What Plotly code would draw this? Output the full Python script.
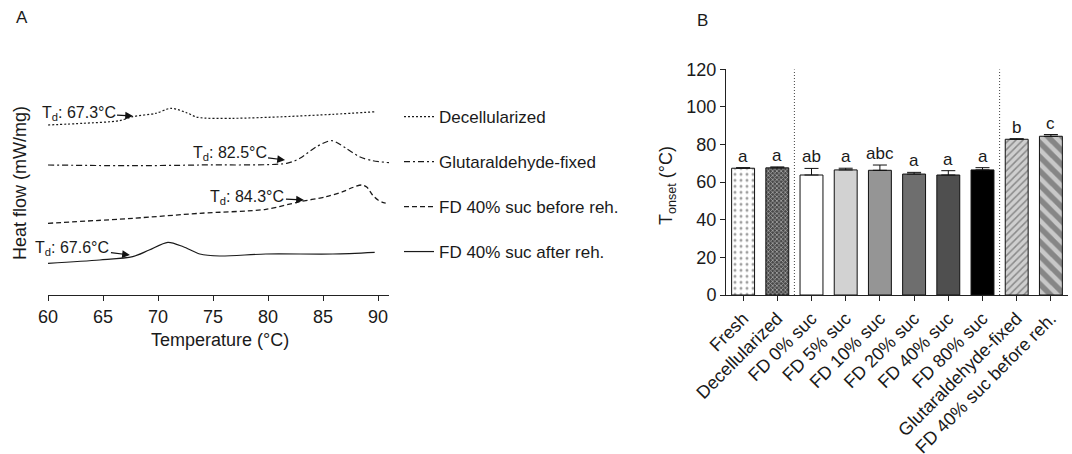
import plotly.graph_objects as go

W, H = 1072, 454
FONT = "Arial, Liberation Sans, sans-serif"


def fx(p):
    return p / W


def fy(p):
    return 1 - p / H


# ---------------- Panel A data (DSC thermograms, arbitrary offset units) ----------------
temp_decell = [60, 63.2, 66.5, 67.7, 69.8, 71.2, 72.6, 73.6, 76.8, 81.4, 85.9, 89.8]
hf_decell = [175, 176.7, 179.3, 183.3, 186.7, 191.7, 187.3, 182.7, 181.7, 183.3, 185.7, 188.3]

temp_glut = [60, 67.7, 73.8, 81.7, 82.9, 84.4, 85.8, 87.1, 88.3, 89.5, 91.0]
hf_glut = [135, 134.3, 135, 136.7, 141.7, 153.3, 159.3, 151.7, 143.3, 139.3, 137.3]

temp_before = [60, 67.7, 73.8, 79.8, 82.9, 85.3, 86.8, 87.7, 88.5, 89.0, 89.5, 90.0, 90.5, 90.9]
hf_before = [76.7, 81.7, 86.7, 90.7, 98.3, 103.3, 108.3, 112.5, 115, 112.7, 105, 100, 97.3, 96.7]

temp_after = [60, 64.7, 67.7, 69.2, 70.9, 72.3, 73.8, 75.6, 79.8, 85.9, 89.7]
hf_after = [36.7, 40, 43.3, 50, 57.7, 53.3, 46, 44, 46, 46, 47.7]

series_names = ["Decellularized", "Glutaraldehyde-fixed",
                "FD 40% suc before reh.", "FD 40% suc after reh."]
td_labels = ["67.3", "82.5", "84.3", "67.6"]
td_tip_temp = [67.73, 81.55, 83.27, 67.45]
td_tip_hf = [184, 140, 100, 45]

# ---------------- Panel B data ----------------
groups = ["Fresh", "Decellularized", "FD 0% suc", "FD 5% suc", "FD 10% suc",
          "FD 20% suc", "FD 40% suc", "FD 80% suc", "Glutaraldehyde-fixed",
          "FD 40% suc before reh."]
t_onset = [67.4, 67.6, 63.8, 66.5, 66.3, 64.3, 63.8, 66.5, 82.8, 84.4]
t_err = [0.3, 0.5, 3.5, 0.9, 2.8, 0.9, 2.3, 1.2, 0.3, 0.9]
sig_letters = ["a", "a", "ab", "a", "abc", "a", "a", "a", "b", "c"]

fig = go.Figure()

styles = [
    dict(dash="2px,2px", width=1.2),
    dict(dash="6px,3px,2px,3px", width=1.2),
    dict(dash="5px,3px", width=1.3),
    dict(dash="solid", width=1.2),
]
xs = [temp_decell, temp_glut, temp_before, temp_after]
ys = [hf_decell, hf_glut, hf_before, hf_after]
legend_ids = ["legend", "legend2", "legend3", "legend4"]
legend_y_px = [117, 162, 207, 252]

for i in range(4):
    fig.add_trace(go.Scatter(
        x=xs[i], y=ys[i], mode="lines", name=series_names[i],
        line=dict(color="#1a1a1a", shape="spline", smoothing=0.8, **styles[i]),
        xaxis="x", yaxis="y", legend=legend_ids[i], showlegend=True,
    ))

# Td annotations with arrows
ax_off = [-54.5, -55.5, -56.5, -57.5]
ay_off = [-3, -7, -3, -7]
for i in range(4):
    fig.add_annotation(
        x=td_tip_temp[i], y=td_tip_hf[i], xref="x", yref="y",
        text=f"T<sub>d</sub>: {td_labels[i]}°C", showarrow=True,
        ax=ax_off[i], ay=ay_off[i], axref="pixel", ayref="pixel",
        arrowhead=2, arrowsize=1.3, arrowwidth=1.2, arrowcolor="#111",
        font=dict(family=FONT, size=16, color="#1a1a1a"),
    )

# Panel B bars
base_colors = ["#ffffff", "#4a4a4a", "#ffffff", "#d2d2d2", "#959595",
               "#6e6e6e", "#4f4f4f", "#000000", "#cfcfcf", "#c8c8c8"]
pat_shapes = [".", "x", "", "", "", "", "", "", "/", "\\"]
pat_fg = ["#333333", "#ffffff", "#000", "#000", "#000", "#000", "#000", "#000",
          "#333333", "#000000"]
pat_bg = ["#ffffff", "#3a3a3a", "#ffffff", "#d2d2d2", "#959595",
          "#6e6e6e", "#4f4f4f", "#000000", "#d0d0d0", "#c8c8c8"]
pat_size = [6, 3, 8, 8, 8, 8, 8, 8, 5, 10]
pat_sol = [0.2, 0.45, 0.3, 0.3, 0.3, 0.3, 0.3, 0.3, 0.3, 0.55]

fig.add_trace(go.Bar(
    x=groups, y=t_onset, width=0.67, xaxis="x2", yaxis="y2", showlegend=False,
    marker=dict(color=base_colors, line=dict(color="#111", width=1),
                pattern=dict(shape=pat_shapes, fgcolor=pat_fg, bgcolor=pat_bg,
                             size=pat_size, solidity=pat_sol)),
    error_y=dict(type="data", array=t_err, arrayminus=[0] * len(t_err),
                 symmetric=False, color="#111", thickness=1, width=7),
))

for g, v, e, s in zip(groups, t_onset, t_err, sig_letters):
    fig.add_annotation(x=g, y=v + e, xref="x2", yref="y2", text=s, showarrow=False,
                       yanchor="bottom", yshift=0,
                       font=dict(family=FONT, size=17, color="#1a1a1a"))

# separators
for xsep in [1.5, 7.5]:
    fig.add_shape(type="line", xref="x2", yref="y2", x0=xsep, x1=xsep, y0=0, y1=120,
                  line=dict(color="#444", width=1, dash="1px,2px"))


def paper_text(xp, yp, text, size=17, angle=0):
    fig.add_annotation(x=fx(xp), y=fy(yp), xref="paper", yref="paper", text=text,
                       showarrow=False, textangle=angle, xanchor="center",
                       yanchor="middle",
                       font=dict(family=FONT, size=size, color="#1a1a1a"))


# Axis titles / panel labels
paper_text(219.5, 340, "Temperature (°C)", 18)
paper_text(20, 183, "Heat flow (mW/mg)", 18, -90)
paper_text(667, 186, "T<sub>onset</sub> (°C)", 18, -90)
paper_text(22, 18, "A", 17)
paper_text(702, 20, "B", 17)

legend_common = dict(xanchor="left", yanchor="middle", bgcolor="rgba(0,0,0,0)",
                     borderwidth=0, itemwidth=30,
                     font=dict(family=FONT, size=17, color="#1a1a1a"))
legend_layout = {}
for lid, ypx in zip(legend_ids, legend_y_px):
    legend_layout[lid] = dict(x=fx(399), y=fy(ypx), **legend_common)

fig.update_layout(
    width=W, height=H, margin=dict(l=0, r=0, t=0, b=0),
    paper_bgcolor="white", plot_bgcolor="white",
    font=dict(family=FONT, size=16, color="#1a1a1a"),
    xaxis=dict(domain=[fx(48), fx(389)], range=[60, 91], anchor="y",
               showline=True, linecolor="#222", linewidth=1, ticks="outside",
               ticklen=5, tickcolor="#222", tickvals=[60, 65, 70, 75, 80, 85, 90],
               showgrid=False, zeroline=False, automargin=False,
               tickfont=dict(family=FONT, size=18, color="#1a1a1a")),
    yaxis=dict(domain=[fy(295), fy(60)], range=[5, 240], anchor="x", visible=False,
               automargin=False),
    xaxis2=dict(domain=[fx(726), fx(1068)], range=[-0.5, 9.5], anchor="y2",
                showline=True, linecolor="#222", linewidth=1, ticks="outside",
                ticklen=5, tickcolor="#222", tickangle=-45, showgrid=False,
                zeroline=False, automargin=False,
                tickfont=dict(family=FONT, size=18, color="#1a1a1a")),
    yaxis2=dict(domain=[fy(295), fy(69.3)], range=[0, 120], anchor="x2",
                showline=True, linecolor="#222", linewidth=1, ticks="outside",
                ticklen=5, tickcolor="#222", dtick=20, showgrid=False,
                zeroline=False, automargin=False,
                tickfont=dict(family=FONT, size=18, color="#1a1a1a")),
    **legend_layout,
)

fig.write_html("out.html")
